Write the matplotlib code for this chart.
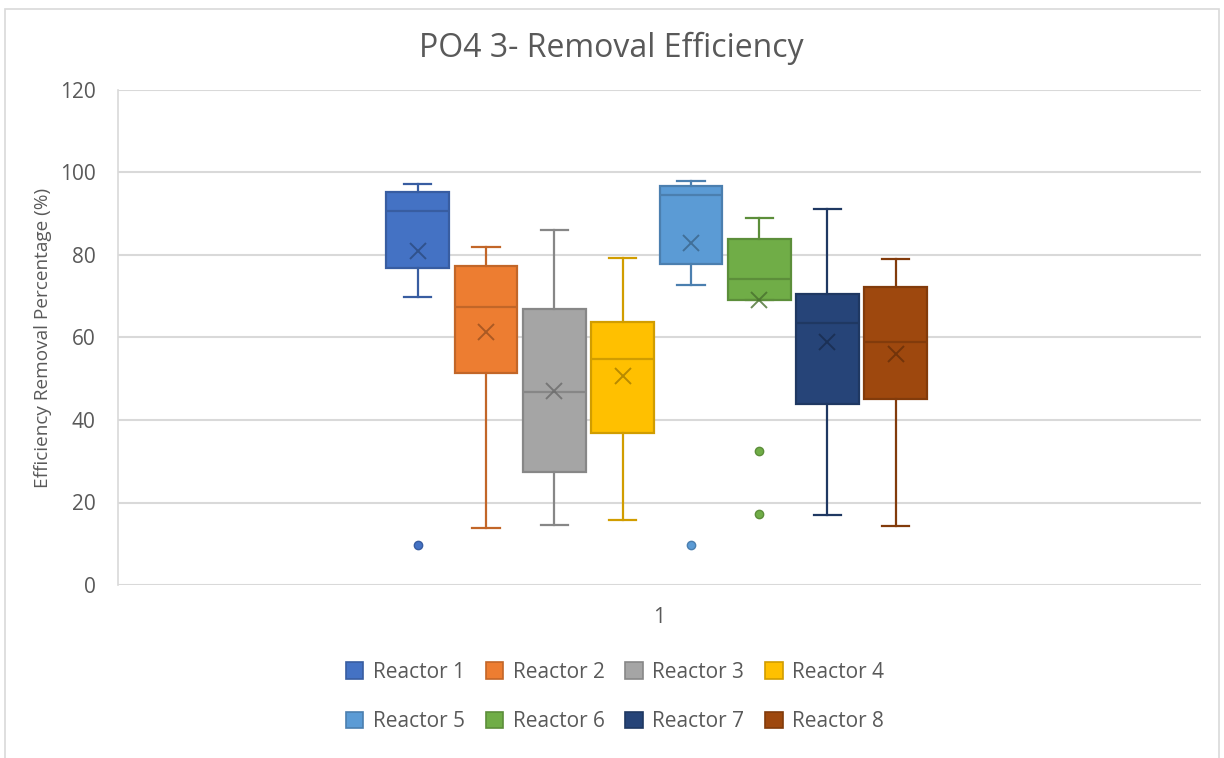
import matplotlib.pyplot as plt
from matplotlib.patches import Patch, Rectangle
import matplotlib.colors as mcolors

plt.rcParams['font.family'] = ['Open Sans', 'DejaVu Sans']

# box plot values (%)
reactors = ['Reactor 1', 'Reactor 2', 'Reactor 3', 'Reactor 4',
            'Reactor 5', 'Reactor 6', 'Reactor 7', 'Reactor 8']
whisker_low = [69.8, 13.8, 14.6, 15.8, 72.8, 69.0, 17.0, 14.4]
q1 = [76.8, 51.3, 27.5, 36.9, 77.8, 69.0, 44.0, 45.1]
median = [90.6, 67.3, 46.9, 54.9, 94.6, 74.3, 63.6, 58.9]
q3 = [95.2, 77.4, 66.8, 63.7, 96.8, 83.8, 70.5, 72.3]
whisker_high = [97.2, 81.9, 86.1, 79.3, 97.9, 88.9, 91.1, 79.0]
mean = [81.0, 61.4, 47.1, 50.6, 83.0, 69.0, 59.0, 56.1]
outliers = [[9.7], [], [], [], [9.6], [32.6, 17.1], [], []]

colors = ['#4472C4', '#ED7D31', '#A5A5A5', '#FFC000',
          '#5B9BD5', '#70AD47', '#264478', '#9E480E']
text_col = '#595959'


def darker(c, f=0.82):
    r, g, b = mcolors.to_rgb(c)
    return (r * f, g * f, b * f)


fig = plt.figure(figsize=(12.24, 7.58), dpi=100)
fig.patches.append(Rectangle((5 / 1224, -0.05), 1214 / 1224, 1.05 - 9 / 758,
                             transform=fig.transFigure, fill=False,
                             edgecolor='#D9D9D9', linewidth=1.2))
ax = fig.add_axes([118 / 1224, 1 - 585 / 758, (1201 - 118) / 1224, (585 - 90) / 758])

positions = list(range(1, len(reactors) + 1))
for i, name in enumerate(reactors):
    stats = [dict(med=median[i], q1=q1[i], q3=q3[i], whislo=whisker_low[i],
                  whishi=whisker_high[i], mean=mean[i], fliers=outliers[i], label=name)]
    ec = darker(colors[i])
    ax.bxp(stats, positions=[positions[i]], widths=0.92, patch_artist=True,
           showmeans=True, manage_ticks=False,
           boxprops=dict(facecolor=colors[i], edgecolor=ec, linewidth=1.6),
           medianprops=dict(color=ec, linewidth=1.6),
           whiskerprops=dict(color=ec, linewidth=1.6),
           capprops=dict(color=ec, linewidth=1.6),
           capwidths=0.4,
           meanprops=dict(marker='x', markersize=12, markeredgecolor=darker(colors[i], 0.65),
                          markeredgewidth=1.4, alpha=0.8),
           flierprops=dict(marker='o', markersize=6, markerfacecolor=colors[i],
                           markeredgecolor=ec))

ax.set_xlim(-3.39, 12.47)
ax.set_ylim(0, 120)
ax.set_yticks(range(0, 121, 20))
ax.set_xticks([4.53])
ax.set_xticklabels(['1'])
ax.yaxis.grid(True, color='#D9D9D9', linewidth=1.5)
ax.set_axisbelow(True)
for s in ['top', 'right', 'bottom']:
    ax.spines[s].set_visible(False)
ax.spines['left'].set_color('#D9D9D9')
ax.spines['left'].set_linewidth(1.2)
ax.tick_params(length=0, labelsize=15, labelcolor=text_col, pad=16)
ax.tick_params(axis='x', pad=16)
ax.set_ylabel('Efficiency Removal Percentage (%)', fontsize=13.7, color=text_col, labelpad=6)
fig.text(611 / 1224, 1 - 48 / 758, 'PO4 3- Removal Efficiency', ha='center', va='center',
         fontsize=23, color=text_col)

# legend is filled column by column, so interleave to get row order 1-4 / 5-8
order = [0, 4, 1, 5, 2, 6, 3, 7]
handles = [Patch(facecolor=colors[k], edgecolor=darker(colors[k]), linewidth=1.2) for k in order]
labels = [reactors[k] for k in order]
fig.legend(handles, labels, ncol=4, loc='center', bbox_to_anchor=(615 / 1224, 1 - 697 / 758),
           frameon=False, fontsize=15, labelcolor=text_col, handlelength=0.85,
           handleheight=0.85, columnspacing=1.0, handletextpad=0.45, labelspacing=1.35)

fig.savefig('out.png', dpi=100)
